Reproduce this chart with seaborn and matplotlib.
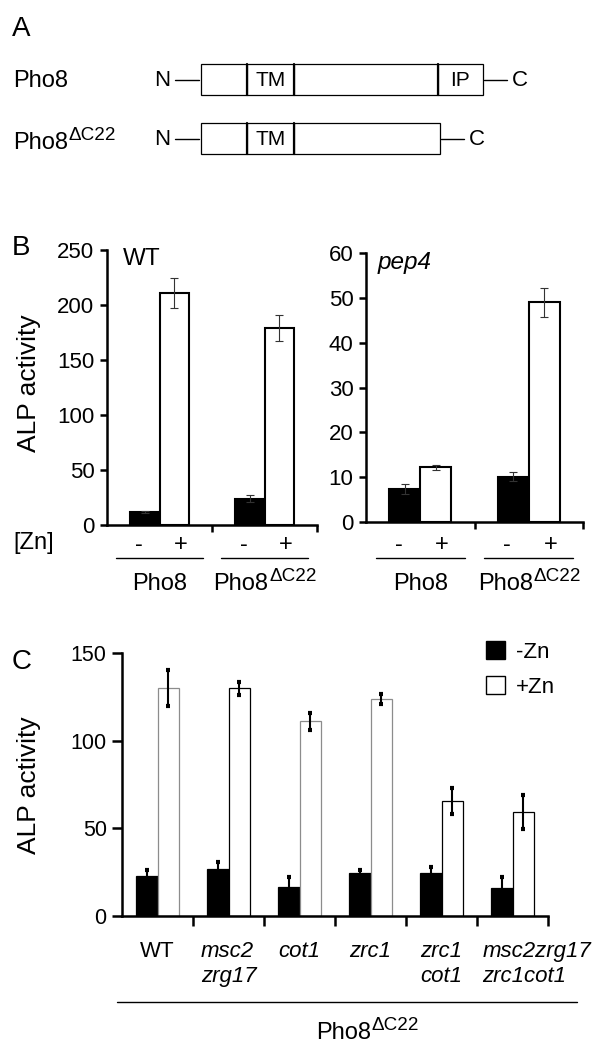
import matplotlib
matplotlib.use('Agg')

import matplotlib.pyplot as plt
import matplotlib.transforms as mtransforms
from matplotlib.patches import Rectangle, Patch
import seaborn as sns
import pandas as pd

# panel A: domain maps (schematic lengths)
pho8_domains = ["", "TM", "", "IP"]
pho8_lengths = [46, 47, 144, 45]
dc22_domains = ["", "TM", ""]
dc22_lengths = [46, 47, 146]

# panel B
constructs = ["Pho8", "Pho8ΔC22"]
zinc_levels = ["-Zn", "+Zn"]
wt_minus = [11.5, 24.0]
wt_plus = [211.0, 179.0]
wt_minus_err = [1.0, 3.0]
wt_plus_err = [14.0, 12.0]
pep4_minus = [7.3, 10.1]
pep4_plus = [12.2, 49.0]
pep4_minus_err = [1.1, 1.0]
pep4_plus_err = [0.5, 3.2]

# panel C
strains = ["WT", "msc2\nzrg17", "cot1", "zrc1", "zrc1\ncot1", "msc2zrg17\nzrc1cot1"]
c_minus = [22.8, 26.8, 16.7, 24.5, 24.4, 16.0]
c_plus = [130.0, 130.0, 111.0, 123.7, 65.6, 59.5]
c_minus_err = [3.2, 4.0, 5.6, 1.5, 3.6, 6.0]
c_plus_err = [10.5, 3.7, 4.8, 3.0, 7.2, 9.7]

W, H = 600, 1050


def fx(x):
    return x / W


def fy(y):
    return 1 - y / H


def long_df(names, minus, plus, minus_err, plus_err):
    rows = []
    for i, n in enumerate(names):
        rows.append((n, "-Zn", minus[i], minus_err[i]))
        rows.append((n, "+Zn", plus[i], plus_err[i]))
    return pd.DataFrame(rows, columns=["strain", "zinc", "activity", "err"])


def construct_label(ax, name, x, y, transform, size, ha):
    # "Pho8" with a large superscript for the truncated construct
    if name == "Pho8":
        ax.text(x, y, name, transform=transform, ha=ha, va="baseline", fontsize=size)
        return
    base, sup = "Pho8", name[4:]
    tr = transform
    if ha == "center":
        tr = transform + mtransforms.ScaledTranslation(-size / 72, 0, fig.dpi_scale_trans)
    t = ax.text(x, y, base, transform=tr, ha=ha, va="baseline", fontsize=size)
    ax.annotate(sup, xy=(1, 0), xycoords=t, xytext=(0.5, 0.6 * size),
                textcoords="offset points", ha="left", va="baseline", fontsize=size * 0.8)


def draw_bars(ax, df, width, lw):
    sns.barplot(data=df, x="strain", y="activity", hue="zinc", hue_order=zinc_levels,
                palette={"-Zn": "black", "+Zn": "white"}, width=width,
                edgecolor="black", linewidth=lw, errorbar=None, legend=False, ax=ax)
    bars = sorted([p for p in ax.patches if p.get_width() > 0], key=lambda p: p.get_x())
    xs = [p.get_x() + p.get_width() / 2 for p in bars]
    return bars, xs


def style_axis(ax, n, ymax, yticks, lw, ylen, xlen, size):
    ax.set_xlim(-0.5, n - 0.5)
    ax.set_ylim(0, ymax)
    ax.set_yticks(yticks)
    ax.set_xticks([i + 0.5 for i in range(n)])
    ax.set_xticklabels([])
    ax.set_xlabel("")
    ax.set_ylabel("")
    sns.despine(ax=ax)
    for s in ["left", "bottom"]:
        ax.spines[s].set_linewidth(lw)
        ax.spines[s].set_color("black")
    ax.tick_params(axis="y", left=True, direction="out", length=ylen, width=lw,
                   labelsize=size, pad=4)
    ax.tick_params(axis="x", bottom=True, direction="out", length=xlen, width=lw)


sns.set_theme(style="white")
plt.rcParams['font.family'] = ['Liberation Sans', 'DejaVu Sans']
plt.rcParams['text.color'] = 'black'
plt.rcParams['ytick.color'] = 'black'
plt.rcParams['xtick.color'] = 'black'

fig = plt.figure(figsize=(6, 10.5), dpi=100)

# ---------- panel A ----------
ax_a = fig.add_axes([0, fy(200), 1, 200 / H])
ax_a.set_xlim(0, W)
ax_a.set_ylim(200, 0)
ax_a.axis("off")
fig.text(fx(12), fy(29), "A", fontsize=20, ha="left", va="center")


def draw_construct(ax, yc, domains, lengths, label, baseline):
    x = 201
    end = 201 + sum(lengths)
    for name, L in zip(domains, lengths):
        ax.add_patch(Rectangle((x, yc - 15.5), L, 31, facecolor="white",
                               edgecolor="black", lw=0.9))
        if name:
            ax.text(x + L / 2, yc + 1, name, ha="center", va="center", fontsize=15)
        x += L
        if x < end:
            ax.plot([x, x], [yc - 15.5, yc + 15.5], color="black", lw=1.6)
    ax.plot([175, 199], [yc, yc], color="black", lw=1)
    ax.plot([x + 1, x + 24], [yc, yc], color="black", lw=1)
    ax.text(162, yc + 1, "N", ha="center", va="center", fontsize=16)
    ax.text(x + 37, yc + 1, "C", ha="center", va="center", fontsize=16)
    construct_label(ax, label, 13, baseline, ax.transData, 17, "left")


draw_construct(ax_a, 79.5, pho8_domains, pho8_lengths, constructs[0], 87)
draw_construct(ax_a, 138.5, dc22_domains, dc22_lengths, constructs[1], 149)

# ---------- panel B ----------
fig.text(fx(12), fy(248), "B", fontsize=20, ha="left", va="center")
fig.text(fx(29), fy(383), "ALP activity", fontsize=19, rotation=90, ha="center", va="center")
fig.text(fx(13), fy(543), "[Zn]", fontsize=17, ha="left", va="center")

panels_b = [
    ([107, 525, 210, 275], wt_minus, wt_plus, wt_minus_err, wt_plus_err, 250, range(0, 251, 50), "WT", "normal", 123, 259),
    ([366, 522, 217, 269], pep4_minus, pep4_plus, pep4_minus_err, pep4_plus_err, 60, range(0, 61, 10), "pep4", "italic", 378, 262),
]
for (l, b, w, h), mn, pl, mne, ple, ymax, yt, title, st, tx, ty in panels_b:
    ax = fig.add_axes([fx(l), fy(b), w / W, h / H])
    df = long_df(constructs, mn, pl, mne, ple)
    bars, xs = draw_bars(ax, df, 0.57, 1.5)
    ax.errorbar(xs, df["activity"], yerr=df["err"], fmt="none", ecolor="#333333",
                elinewidth=0.8, capsize=3, capthick=0.8, zorder=5)
    style_axis(ax, 2, ymax, yt, 1.8, 5, 5, 16)
    fig.text(fx(tx), fy(ty), title, fontsize=17.5, style=st, ha="left", va="center")
    tr = mtransforms.blended_transform_factory(ax.transData, fig.transFigure)
    for i, name in enumerate(constructs):
        ax.text(i - 0.2, fy(545), "-", transform=tr, ha="center", va="center", fontsize=17)
        ax.text(i + 0.2, fy(545), "+", transform=tr, ha="center", va="center", fontsize=17)
        ax.plot([i - 0.41, i + 0.41], [fy(558), fy(558)], transform=tr, color="black",
                lw=1, clip_on=False)
        construct_label(ax, name, i, fy(590), tr, 17, "center")
    ax.set_xlim(-0.5, 1.5)
    ax.set_ylim(0, ymax)

# ---------- panel C ----------
fig.text(fx(12), fy(662), "C", fontsize=20, ha="left", va="center")
fig.text(fx(29), fy(785), "ALP activity", fontsize=19, rotation=90, ha="center", va="center")

ax_c = fig.add_axes([fx(122), fy(916), 426 / W, 263 / H])
df_c = long_df(strains, c_minus, c_plus, c_minus_err, c_plus_err)
bars_c, xs_c = draw_bars(ax_c, df_c, 0.6, 0.9)
plus_edges = ["#8c8c8c", "black", "#8c8c8c", "#8c8c8c", "black", "black"]
for i, p in enumerate(bars_c):
    if i % 2 == 1:
        p.set_edgecolor(plus_edges[i // 2])
ax_c.errorbar(xs_c, df_c["activity"], yerr=df_c["err"], fmt="none", ecolor="black",
              elinewidth=1.5, capsize=1.6, capthick=3, zorder=5)
style_axis(ax_c, 6, 150, [0, 50, 100, 150], 1.8, 7, 7, 15.5)
handles = [Patch(facecolor="black", edgecolor="black"),
           Patch(facecolor="white", edgecolor="black")]
ax_c.legend(handles, zinc_levels, loc="upper left", bbox_to_anchor=(fx(486), fy(641)),
            bbox_transform=fig.transFigure, frameon=False, fontsize=16,
            handlelength=0.85, handleheight=0.85, handletextpad=0.5,
            labelspacing=0.62, borderpad=0, borderaxespad=0)

tr_c = mtransforms.blended_transform_factory(ax_c.transData, fig.transFigure)
for i, name in enumerate(strains):
    xpos = i + 0.34 if i == len(strains) - 1 else i
    ax_c.text(xpos, fy(941), name, transform=tr_c, ha="center", va="top",
              multialignment="left", linespacing=1.25, fontsize=16,
              style="normal" if name == "WT" else "italic")
ax_c.plot([-0.57, 5.91], [fy(1002), fy(1002)], transform=tr_c, color="black",
          lw=1, clip_on=False)
construct_label(ax_c, constructs[1], 2.95, fy(1039), tr_c, 17, "center")
ax_c.set_xlim(-0.5, 5.5)
ax_c.set_ylim(0, 150)

fig.savefig("out.png", dpi=100)
